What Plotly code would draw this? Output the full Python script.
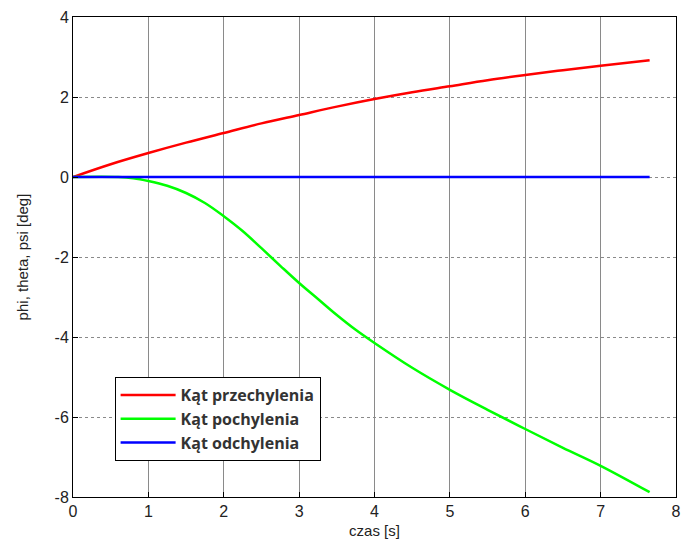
import plotly.graph_objects as go

t = [0, 0.5, 1, 1.5, 2, 2.5, 3, 3.5, 4, 4.5, 5, 5.5, 6, 6.5, 7, 7.65]
phi = [0, 0.32, 0.6, 0.86, 1.1, 1.34, 1.55, 1.76, 1.95, 2.12, 2.27, 2.42, 2.55, 2.67, 2.78, 2.92]
t_theta = [0, 0.6, 0.8, 1.0, 1.25, 1.5, 1.75, 2.0, 2.25, 2.5, 2.75, 3.0, 3.25, 3.5, 3.75, 4.0, 4.5, 5.0, 5.5, 6.0, 6.5, 7.0, 7.65]
theta = [0, 0, -0.03, -0.1, -0.22, -0.4, -0.65, -0.98, -1.35, -1.78, -2.22, -2.65, -3.05, -3.45, -3.82, -4.15, -4.77, -5.32, -5.82, -6.3, -6.77, -7.22, -7.88]
psi = [0, 0, 0, 0, 0, 0, 0, 0, 0, 0, 0, 0, 0, 0, 0, 0]

x_ticks = [0, 1, 2, 3, 4, 5, 6, 7, 8]
y_ticks = [-8, -6, -4, -2, 0, 2, 4]
y_ticktext = ["-8", "-6", "-4", "-2", "0", "2", "4"]

names = ["Kąt przechylenia", "Kąt pochylenia", "Kąt odchylenia"]

fig = go.Figure()
fig.add_trace(go.Scatter(x=t, y=phi, mode="lines", name=names[0],
                         line=dict(color="#ff0000", width=2.5, shape="spline")))
fig.add_trace(go.Scatter(x=t_theta, y=theta, mode="lines", name=names[1],
                         line=dict(color="#00ff00", width=2.5, shape="spline")))
fig.add_trace(go.Scatter(x=t, y=psi, mode="lines", name=names[2],
                         line=dict(color="#0000ff", width=2.5)))

tickfont = dict(family="Liberation Sans, Arial", size=16, color="#222222")
titlefont = dict(family="Liberation Sans, Arial", size=15, color="#222222")
axis_common = dict(
    showgrid=True, gridcolor="#8a8a8a", gridwidth=1,
    showline=True, linecolor="black", linewidth=1, mirror=True,
    ticks="inside", ticklen=5, tickcolor="black",
    zeroline=False, tickfont=tickfont,
)

fig.update_layout(
    width=689, height=549,
    margin=dict(l=73, r=8, t=17, b=52),
    paper_bgcolor="white", plot_bgcolor="white",
    xaxis=dict(range=[0, 8], tickvals=x_ticks, griddash="solid",
               title=dict(text="czas [s]", standoff=6, font=titlefont),
               **axis_common),
    yaxis=dict(range=[-8, 4], tickvals=y_ticks, ticktext=y_ticktext, griddash="dot",
               title=dict(text="phi, theta, psi [deg]", standoff=22, font=titlefont),
               **axis_common),
    legend=dict(x=0.069, y=0.25, xanchor="left", yanchor="top",
                bgcolor="white", bordercolor="black", borderwidth=1,
                font=dict(family="Open Sans, Liberation Sans", size=16, color="#333333", weight="bold"),
                tracegroupgap=0, itemwidth=55),
    showlegend=True,
)

fig.write_html("out.html")
